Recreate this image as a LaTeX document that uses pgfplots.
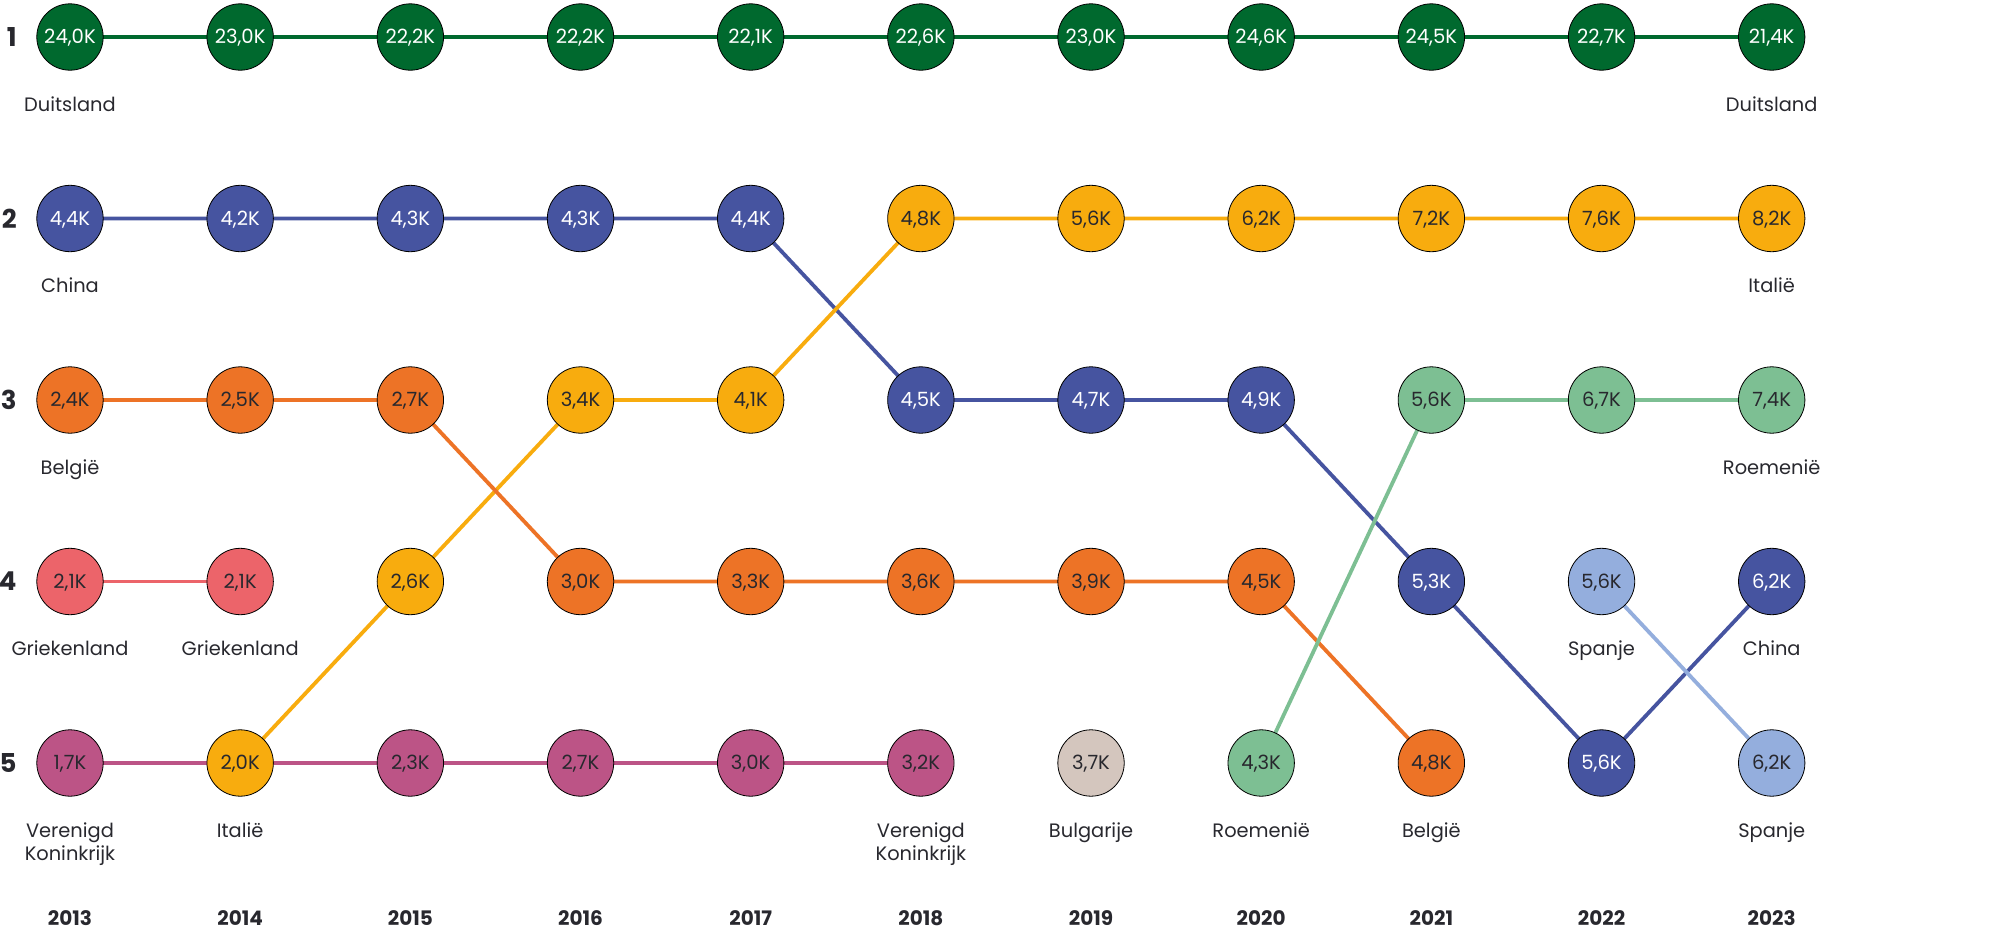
\documentclass[border=0pt]{standalone}
\usepackage{fontspec}
\setmainfont{Poppins}
\usepackage{pgfplots}
\usepackage{pgfplotstable}
\pgfplotsset{compat=1.18}

\definecolor{cDE}{RGB}{0,105,46}
\definecolor{cCN}{RGB}{70,84,160}
\definecolor{cIT}{RGB}{248,172,14}
\definecolor{cBE}{RGB}{237,115,38}
\definecolor{cGR}{RGB}{236,100,106}
\definecolor{cUK}{RGB}{188,84,134}
\definecolor{cRO}{RGB}{125,191,147}
\definecolor{cES}{RGB}{148,174,221}
\definecolor{cBG}{RGB}{212,198,190}
\definecolor{ink}{RGB}{40,40,46}

% rank per year, value in thousands
\pgfplotstableread{
year rank val
2013 1 24.0
2014 1 23.0
2015 1 22.2
2016 1 22.2
2017 1 22.1
2018 1 22.6
2019 1 23.0
2020 1 24.6
2021 1 24.5
2022 1 22.7
2023 1 21.4
}\tDE
\pgfplotstableread{
year rank val
2013 2 4.4
2014 2 4.2
2015 2 4.3
2016 2 4.3
2017 2 4.4
2018 3 4.5
2019 3 4.7
2020 3 4.9
2021 4 5.3
2022 5 5.6
2023 4 6.2
}\tCN
\pgfplotstableread{
year rank val
2014 5 2.0
2015 4 2.6
2016 3 3.4
2017 3 4.1
2018 2 4.8
2019 2 5.6
2020 2 6.2
2021 2 7.2
2022 2 7.6
2023 2 8.2
}\tIT
\pgfplotstableread{
year rank val
2013 3 2.4
2014 3 2.5
2015 3 2.7
2016 4 3.0
2017 4 3.3
2018 4 3.6
2019 4 3.9
2020 4 4.5
2021 5 4.8
}\tBE
\pgfplotstableread{
year rank val
2013 4 2.1
2014 4 2.1
}\tGR
\pgfplotstableread{
year rank val
2013 5 1.7
2015 5 2.3
2016 5 2.7
2017 5 3.0
2018 5 3.2
}\tUK
\pgfplotstableread{
year rank val
2019 5 3.7
}\tBG
\pgfplotstableread{
year rank val
2020 5 4.3
2021 3 5.6
2022 3 6.7
2023 3 7.4
}\tRO
\pgfplotstableread{
year rank val
2022 4 5.6
2023 5 6.2
}\tES

\pgfplotsset{
  bumpline/.style={draw=#1, line width=1.9pt, mark=none},
  bumpdot/.style 2 args={
    only marks, mark=*, mark size=16.6pt,
    mark options={fill=#1, draw=none},
    point meta=explicit,
    nodes near coords={\pgfmathprintnumber[fixed,fixed zerofill,precision=1,use comma,assume math mode=true]{\pgfplotspointmeta}K},
    nodes near coords style={anchor=center, inner sep=0pt, text height=6.8pt, text depth=0pt,
      font=\fontsize{9.8}{11}\selectfont, text=#2},
  },
}
\tikzset{
  lab/.style={anchor=north, yshift=-29.5pt, inner sep=0pt, align=center,
    font=\fontsize{9.7}{11.5}\selectfont, text=ink},
}

\begin{document}
\begin{tikzpicture}
\begin{axis}[
    at={(35pt,84pt)}, anchor=south west,
    scale only axis,
    width=850.85pt, height=363pt,
    xmin=2013, xmax=2023, ymin=1, ymax=5,
    y dir=reverse,
    enlargelimits=false,
    clip=false,
    axis line style={draw=none},
    major tick length=0pt,
    xtick={2013,2014,2015,2016,2017,2018,2019,2020,2021,2022,2023},
    xticklabels={2013,2014,2015,2016,2017,2018,2019,2020,2021,2022,2023},
    ytick={1,2,3,4,5},
    yticklabels={1,2,3,4,5},
    xticklabel style={inner sep=0pt, yshift=-73.5pt, font=\bfseries\fontsize{10}{12}\selectfont, text=ink},
    yticklabel style={inner sep=0pt, xshift=-26.5pt, font=\bfseries\fontsize{13}{15}\selectfont, text=ink},
]
% lines first
\addplot[bumpline=cDE] table[x=year,y=rank] {\tDE};
\addplot[bumpline=cCN] table[x=year,y=rank] {\tCN};
\addplot[bumpline=cIT] table[x=year,y=rank] {\tIT};
\addplot[bumpline=cBE] table[x=year,y=rank] {\tBE};
\addplot[bumpline=cGR] table[x=year,y=rank] {\tGR};
\addplot[bumpline=cUK] table[x=year,y=rank] {\tUK};
\addplot[bumpline=cRO] table[x=year,y=rank] {\tRO};
\addplot[bumpline=cES] table[x=year,y=rank] {\tES};
% then the circles with values
\addplot[bumpdot={cDE}{white}] table[x=year,y=rank,meta=val] {\tDE};
\addplot[bumpdot={cCN}{white}] table[x=year,y=rank,meta=val] {\tCN};
\addplot[bumpdot={cIT}{ink}] table[x=year,y=rank,meta=val] {\tIT};
\addplot[bumpdot={cBE}{ink}] table[x=year,y=rank,meta=val] {\tBE};
\addplot[bumpdot={cGR}{ink}] table[x=year,y=rank,meta=val] {\tGR};
\addplot[bumpdot={cUK}{ink}] table[x=year,y=rank,meta=val] {\tUK};
\addplot[bumpdot={cBG}{ink}] table[x=year,y=rank,meta=val] {\tBG};
\addplot[bumpdot={cRO}{ink}] table[x=year,y=rank,meta=val] {\tRO};
\addplot[bumpdot={cES}{ink}] table[x=year,y=rank,meta=val] {\tES};

% country names
\node[lab] at (axis cs:2013,1) {Duitsland};
\node[lab] at (axis cs:2013,2) {China};
\node[lab] at (axis cs:2013,3) {België};
\node[lab] at (axis cs:2013,4) {Griekenland};
\node[lab] at (axis cs:2013,5) {Verenigd\\Koninkrijk};
\node[lab] at (axis cs:2014,4) {Griekenland};
\node[lab] at (axis cs:2014,5) {Italië};
\node[lab] at (axis cs:2018,5) {Verenigd\\Koninkrijk};
\node[lab] at (axis cs:2019,5) {Bulgarije};
\node[lab] at (axis cs:2020,5) {Roemenië};
\node[lab] at (axis cs:2021,5) {België};
\node[lab] at (axis cs:2022,4) {Spanje};
\node[lab] at (axis cs:2023,1) {Duitsland};
\node[lab] at (axis cs:2023,2) {Italië};
\node[lab] at (axis cs:2023,3) {Roemenië};
\node[lab] at (axis cs:2023,4) {China};
\node[lab] at (axis cs:2023,5) {Spanje};
\end{axis}
\pgfresetboundingbox
\path[use as bounding box] (0,0) rectangle (1004pt,465.5pt);
\end{tikzpicture}
\end{document}
